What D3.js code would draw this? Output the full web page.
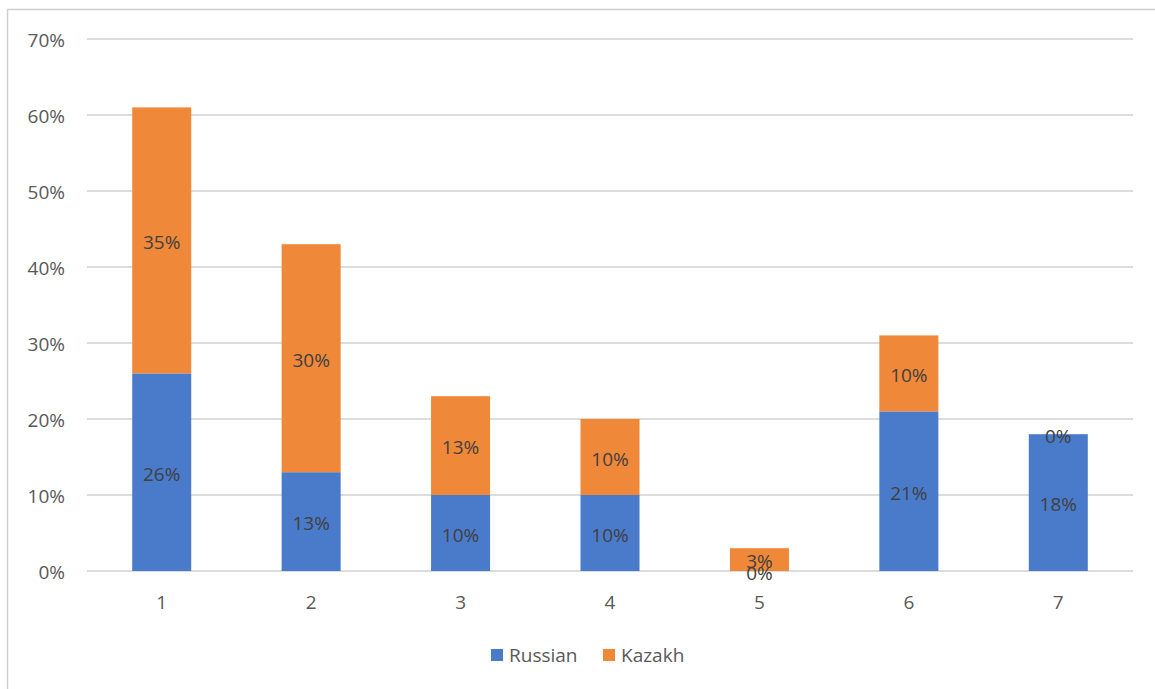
<!DOCTYPE html>
<html><head><meta charset="utf-8">
<script src="https://cdn.jsdelivr.net/npm/d3@7"></script>
<style>body{margin:0;background:#fff;}svg{display:block;}</style>
</head><body>
<svg id="c" width="1155" height="689"></svg>
<script>
const categories = ["1","2","3","4","5","6","7"];
const russian = [26,13,10,10,0,21,18];
const kazakh = [35,30,13,10,3,10,0];
const yTicks = [0,10,20,30,40,50,60,70];
const seriesNames = ["Russian","Kazakh"];
const seriesColors = ["#4a7bcb","#ef8838"];

const svg = d3.select("#c");
const font = "'Open Sans', sans-serif";
svg.append("rect").attr("x",7.5).attr("y",9.5).attr("width",1170).attr("height",700)
  .attr("fill","#fff").attr("stroke","#cfcfcf").attr("stroke-width",1.5);

const x = d3.scaleBand().domain(categories).range([87,1133]).paddingInner(0.605).paddingOuter(0.3025);
const y = d3.scaleLinear().domain([0,70]).range([571,39]);

svg.append("g").selectAll("line").data(yTicks).join("line")
  .attr("x1",87).attr("x2",1133).attr("y1",d=>y(d)).attr("y2",d=>y(d))
  .attr("stroke","#dcdcdc").attr("stroke-width",2);

const yAxis = d3.axisLeft(y).tickValues(yTicks).tickFormat(d=>d+"%").tickSize(0).tickPadding(0);
const ya = svg.append("g").attr("transform","translate(65,0)").call(yAxis);
ya.select(".domain").remove();
ya.selectAll("text").attr("font-family",font).attr("font-size",19).attr("fill","#595959").attr("dy","0.38em");

const xAxis = d3.axisBottom(x).tickSize(0).tickPadding(0);
const xa = svg.append("g").attr("transform","translate(0,602)").call(xAxis);
xa.select(".domain").remove();
xa.selectAll("text").attr("font-family",font).attr("font-size",19).attr("fill","#595959").attr("dy","0.38em");

const data = categories.map((c,i)=>({c, Russian:russian[i], Kazakh:kazakh[i]}));
const stacked = d3.stack().keys(seriesNames)(data);
const color = d3.scaleOrdinal().domain(seriesNames).range(seriesColors);

stacked.forEach(s=>{
  const g = svg.append("g");
  g.selectAll("rect").data(s).join("rect")
    .attr("x",d=>x(d.data.c)).attr("width",x.bandwidth())
    .attr("y",d=>y(d[1])).attr("height",d=>y(d[0])-y(d[1]))
    .attr("fill",color(s.key));
});
stacked.forEach(s=>{
  svg.append("g").selectAll("text").data(s).join("text")
    .attr("x",d=>x(d.data.c)+x.bandwidth()/2)
    .attr("y",d=>(y(d[0])+y(d[1]))/2)
    .attr("dy","0.45em").attr("text-anchor","middle")
    .attr("font-family",font).attr("font-size",19).attr("fill","#404040")
    .text(d=>(d[1]-d[0])+"%");
});

const legend = svg.append("g").attr("transform","translate(491,655)");
const lx = [0,112];
seriesNames.forEach((n,i)=>{
  legend.append("rect").attr("x",lx[i]).attr("y",-6).attr("width",12).attr("height",12).attr("fill",seriesColors[i]);
  legend.append("text").attr("x",lx[i]+18).attr("y",0).attr("dy","0.36em")
    .attr("font-family",font).attr("font-size",19).attr("fill","#595959").text(n);
});
</script>
</body></html>
